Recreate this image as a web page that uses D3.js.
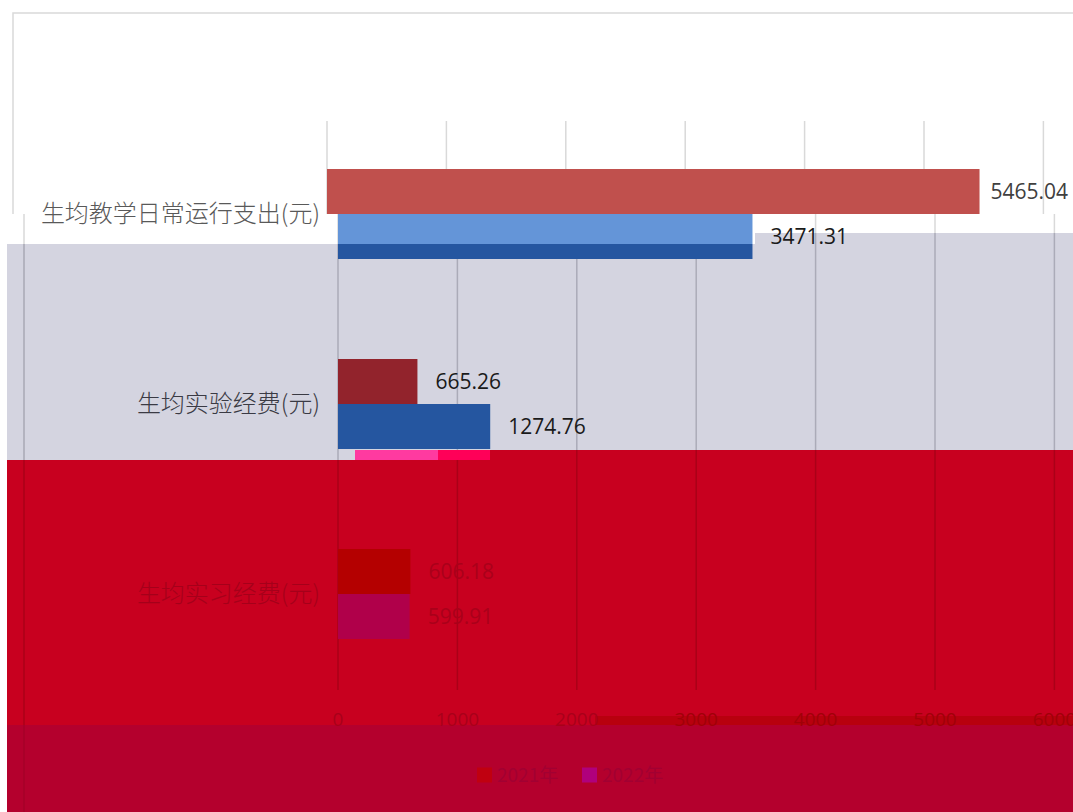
<!DOCTYPE html>
<html><head><meta charset="utf-8">
<script src="https://cdn.jsdelivr.net/npm/d3@7"></script>
<style>html,body{margin:0;padding:0;background:#fff;overflow:hidden}</style>
</head><body><svg id="c" width="1073" height="812"></svg>
<script>
const categories = ["生均教学日常运行支出(元)", "生均实验经费(元)", "生均实习经费(元)"];
const seriesNames = ["2021年", "2022年"];
const values2021 = [5465.04, 665.26, 606.18];
const values2022 = [3471.31, 1274.76, 599.91];
const xTicks = [0, 1000, 2000, 3000, 4000, 5000, 6000];

const rows = categories.map((c, i) => ({cat: c, vals: [values2021[i], values2022[i]]}));

const svg = d3.select("#c");
const W = 1073, H = 812;
const x = d3.scaleLinear().domain([0, 6000]).range([0, 716.4]);
const y = d3.scaleBand().domain(categories).range([119, 689]).paddingInner(100/190).paddingOuter(50/190);
const ys = d3.scaleBand().domain(seriesNames).range([0, y.bandwidth()]);

const numFont = "'Open Sans', 'Liberation Sans', sans-serif";
const cjkFont = "'Noto Sans CJK SC', sans-serif";

// glitch bands: each is a clip region with its own palette and horizontal offset
const bands = [
  {id:"a1", pts:[[0,0],[W,0],[W,214],[0,214]], x0:327, bg:"#ffffff", grid:"#d9d9d9", border:"#d9d9d9",
   bars:["#c0504d","#6495d8"], text:"#404040", label:"#595959", tick:"#595959", legSq:["#c0504d","#4f81bd"], leg:"#595959", lab:11},
  {id:"a2", pts:[[0,214],[W,214],[W,233],[755,233],[755,244],[0,244]], x0:338, bg:"#ffffff", grid:"#d9d9d9", border:"#d9d9d9",
   bars:["#c0504d","#6495d8"], text:"#262626", label:"#595959", tick:"#595959", legSq:["#c0504d","#4f81bd"], leg:"#595959", lab:18},
  {id:"b", pts:[[7,244],[755,244],[755,233],[W,233],[W,450],[490,450],[490,460],[7,460]], x0:338, bg:"#d4d4e0", grid:"#ababb8", border:"#a8a8b4",
   bars:["#92232c","#2556a0"], text:"#1a1a1a", label:"#3a3a44", tick:"#3a3a44", legSq:["#92232c","#2556a0"], leg:"#3a3a44", lab:18},
  {id:"p1", pts:[[355,450],[438,450],[438,460],[355,460]], x0:338, bg:"#ff3aa0", grid:"#ff3aa0", border:"#ff3aa0",
   bars:["#ff3aa0","#ff3aa0"], text:"#ff3aa0", label:"#ff3aa0", tick:"#ff3aa0", legSq:["#ff3aa0","#ff3aa0"], leg:"#ff3aa0", lab:18},
  {id:"p2", pts:[[438,450],[490,450],[490,460],[438,460]], x0:338, bg:"#ff0058", grid:"#ff0058", border:"#ff0058",
   bars:["#ff0058","#ff0058"], text:"#ff0058", label:"#ff0058", tick:"#ff0058", legSq:["#ff0058","#ff0058"], leg:"#ff0058", lab:18},
  {id:"c", pts:[[7,460],[490,460],[490,450],[W,450],[W,716],[595,716],[595,725],[7,725]], x0:338, bg:"#c8001f", grid:"#aa0018", border:"#aa0018",
   bars:["#b40000","#b0004a"], text:"#aa001a", label:"#a5001a", tick:"#a8001a", legSq:["#b40000","#b0004a"], leg:"#a8001a", lab:18},
  {id:"c2", pts:[[595,716],[W,716],[W,725],[595,725]], x0:338, bg:"#b8000e", grid:"#a0000a", border:"#a0000a",
   bars:["#b40000","#b0004a"], text:"#a0000a", label:"#a0000a", tick:"#a00008", legSq:["#b40000","#b0004a"], leg:"#a0000a", lab:18},
  {id:"d", pts:[[7,725],[W,725],[W,H],[7,H]], x0:338, bg:"#b4002d", grid:"#a50028", border:"#a50028",
   bars:["#c00010","#b0007c"], text:"#a50030", label:"#a50030", tick:"#a50030", legSq:["#c00010","#b0007c"], leg:"#a20032", lab:18}
];

const defs = svg.append("defs");
bands.forEach(b => {
  defs.append("clipPath").attr("id", "clip-" + b.id)
    .append("polygon").attr("points", b.pts.map(p => p.join(",")).join(" "));
});

function bandAt(px, py) {
  for (let i = bands.length - 1; i >= 0; i--) {
    if (d3.polygonContains(bands[i].pts, [px, py])) return bands[i];
  }
  return bands[0];
}

// pass 1: backgrounds, border, gridlines, bars, legend squares (clipped per band)
function drawMarks(g, b) {
  const x0 = b.x0;
  g.append("rect").attr("x", 0).attr("y", 0).attr("width", W).attr("height", H).attr("fill", b.bg);
  const bx = x0 - 314;
  g.append("path").attr("d", `M${bx},${H} V13 H${W}`).attr("fill", "none").attr("stroke", b.border).attr("stroke-width", 1.5);
  g.selectAll(".grid").data(xTicks).join("line")
    .attr("x1", d => x0 + x(d)).attr("x2", d => x0 + x(d))
    .attr("y1", 121).attr("y2", 690)
    .attr("stroke", b.grid).attr("stroke-width", 1.5);
  const cg = g.selectAll(".cat").data(rows).join("g").attr("transform", d => `translate(0,${y(d.cat)})`);
  cg.selectAll("rect").data(d => d.vals.map((v, i) => ({v, s: seriesNames[i], i})))
    .join("rect")
    .attr("x", x0 + x(0)).attr("y", d => ys(d.s))
    .attr("width", d => x(d.v) - x(0)).attr("height", ys.bandwidth())
    .attr("fill", d => b.bars[d.i]);
  const legX = [477, 582];
  g.selectAll(".lq").data(seriesNames).join("rect")
    .attr("x", (d, i) => legX[i]).attr("y", 775 - 7.5).attr("width", 15).attr("height", 15)
    .attr("fill", (d, i) => b.legSq[i]);
}

bands.forEach(b => {
  const g = svg.append("g").attr("clip-path", `url(#clip-${b.id})`);
  drawMarks(g, b);
});

// pass 2: every text drawn once, coloured by the band it sits in
const tg = svg.append("g");
const valueItems = [];
rows.forEach(r => r.vals.forEach((v, i) => {
  const cy = y(r.cat) + ys(seriesNames[i]) + ys.bandwidth() / 2;
  const b = bandAt(bands[0].x0 + x(v) + 20, cy);
  valueItems.push({v, cy, b});
}));
tg.selectAll(".vl").data(valueItems).join("text")
  .attr("x", d => d.b.x0 + x(d.v) + d.b.lab).attr("y", d => d.cy).attr("dy", "0.35em")
  .attr("font-family", numFont).attr("font-size", 21).attr("fill", d => d.b.text)
  .text(d => d.v.toFixed(2));

tg.selectAll(".cl").data(categories).join("text")
  .attr("x", 320).attr("y", d => y(d) + y.bandwidth() / 2).attr("dy", "0.35em")
  .attr("text-anchor", "end").attr("font-family", cjkFont).attr("font-weight", 300)
  .attr("font-size", 24).attr("fill", d => bandAt(200, y(d) + y.bandwidth() / 2).label).text(d => d);

tg.selectAll(".tl").data(xTicks).join("text")
  .attr("x", d => bandAt(338 + x(d), 719).x0 + x(d)).attr("y", 719).attr("dy", "0.35em")
  .attr("text-anchor", "middle").attr("font-family", numFont).attr("font-size", 19)
  .attr("fill", d => bandAt(338 + x(d), 719).tick).text(d => d);

const legXt = [497, 602];
tg.selectAll(".lt").data(seriesNames).join("text")
  .attr("x", (d, i) => legXt[i]).attr("y", 775).attr("dy", "0.35em")
  .attr("font-family", cjkFont).attr("font-size", 19)
  .attr("fill", (d, i) => bandAt(legXt[i], 775).leg).text(d => d);
</script>
</body></html>
